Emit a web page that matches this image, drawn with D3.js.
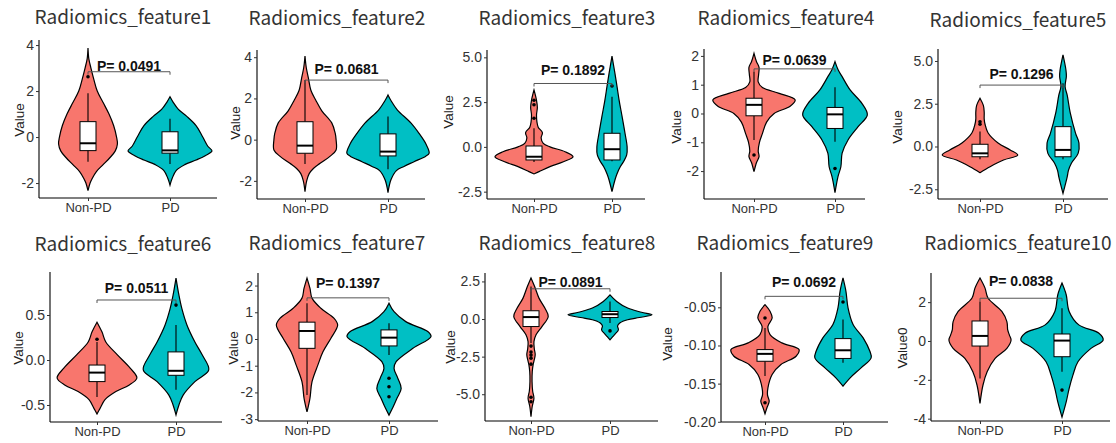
<!DOCTYPE html>
<html>
<head>
<meta charset="utf-8">
<script src="https://cdn.jsdelivr.net/npm/d3@7"></script>
<style>
  body { margin: 0; background: #fff; }
  svg { display: block; }
  .tick text { font-family: "Liberation Sans", Arial, sans-serif; font-size: 14px; fill: #333; }
  .title { font-family: "Noto Sans CJK SC", "Noto Sans", sans-serif; font-size: 19px; fill: #333; }
  .ylab { font-family: "Liberation Sans", Arial, sans-serif; font-size: 13.5px; fill: #222; }
  .ptext { font-family: "Liberation Sans", Arial, sans-serif; font-size: 14px; font-weight: bold; fill: #111; }
</style>
</head>
<body>
<svg id="chart" width="1116" height="443"></svg>
<script>
// ---- data ----
const features = ['Radiomics_feature1', 'Radiomics_feature2', 'Radiomics_feature3', 'Radiomics_feature4', 'Radiomics_feature5',
                  'Radiomics_feature6', 'Radiomics_feature7', 'Radiomics_feature8', 'Radiomics_feature9', 'Radiomics_feature10'];
const groups = ['Non-PD', 'PD'];
const yLabels = ['Value', 'Value', 'Value', 'Value', 'Value', 'Value', 'Value', 'Value', 'Value', 'Value0'];
const pValues = ['0.0491', '0.0681', '0.1892', '0.0639', '0.1296', '0.0511', '0.1397', '0.0891', '0.0692', '0.0838'];
const bracketY = [2.84, 2.89, 3.54, 1.55, 3.59, 0.667, 1.54, 2.01, -0.0356, 2.2];

const yDomains = [[-2.65, 4.22], [-2.88, 4.35], [-2.91, 5.41], [-2.97, 2.24], [-3.07, 5.7],
                  [-0.689, 0.978], [-3.07, 2.47], [-6.78, 3.06], [-0.2003, -0.0037], [-4.12, 3.5]];
const yTicks = [[-2, 0, 2, 4], [-2, 0, 2, 4], [-2.5, 0, 2.5, 5], [-2, -1, 0, 1, 2], [-2.5, 0, 2.5, 5],
                [-0.5, 0, 0.5], [-3, -2, -1, 0, 1, 2], [-5, -2.5, 0, 2.5], [-0.2, -0.15, -0.1, -0.05], [-4, -2, 0, 2]];
const tickFormats = ['d', 'd', '.1f', 'd', '.1f', '.1f', 'd', '.1f', '.2f', 'd'];

// box stats: [lower whisker, q1, median, q3, upper whisker]
const nonPdBox = [[-1.07, -0.59, -0.27, 0.67, 1.9], [-1.18, -0.66, -0.29, 0.87, 2.9], [-0.85, -0.73, -0.55, 0.05, 1.04],
                  [-0.92, -0.08, 0.3, 0.53, 1.45], [-0.75, -0.6, -0.4, 0.13, 0.87], [-0.41, -0.24, -0.14, -0.056, 0.2],
                  [-2.1, -0.35, 0.3, 0.63, 1.34], [-1.6, -0.5, 0.13, 0.55, 2.16], [-0.14, -0.1207, -0.111, -0.1054, -0.077],
                  [-1.93, -0.26, 0.26, 1.03, 2.03]];
const pdBox = [[-1.17, -0.7, -0.58, 0.23, 0.8], [-1.44, -0.79, -0.58, 0.28, 1.12], [-0.8, -0.73, -0.13, 0.76, 2.8],
               [-0.98, -0.52, -0.03, 0.21, 0.91], [-0.75, -0.6, -0.2, 1.16, 3.7], [-0.33, -0.17, -0.12, 0.09, 0.39],
               [-0.6, -0.26, 0.05, 0.34, 0.59], [-0.27, 0.1, 0.32, 0.5, 1.16], [-0.1228, -0.117, -0.1063, -0.091, -0.066],
               [-1.59, -0.81, 0.02, 0.36, 1.69]];
const nonPdOutliers = [[2.62], [], [2.6, 2.35, 1.6], [-1.44], [1.45, 1.3], [0.23], [],
                       [-1.8, -2.2, -2.4, -2.6, -3.0, -5.2, -5.5], [-0.0639, -0.175], []];
const pdOutliers = [[], [], [3.4], [-1.91], [], [0.61], [-1.47, -1.79, -2.16], [-0.79], [-0.043], [-2.53]];

// violin outlines: [value, relative density]
const nonPdViolin = [
  [[3.87, 0], [3.4, 0.02], [3.0, 0.07], [2.5, 0.14], [2.0, 0.22], [1.5, 0.36], [1.0, 0.5], [0.5, 0.61], [0, 0.68], [-0.3, 0.7], [-0.6, 0.65], [-0.9, 0.52], [-1.2, 0.36], [-1.5, 0.2], [-1.8, 0.1], [-2.0, 0.05], [-2.33, 0]],
  [[4.06, 0], [3.5, 0.03], [3.0, 0.08], [2.4, 0.14], [1.9, 0.26], [1.4, 0.4], [0.8, 0.64], [0.3, 0.72], [0, 0.74], [-0.5, 0.74], [-0.8, 0.6], [-1.15, 0.36], [-1.4, 0.2], [-1.65, 0.1], [-2.0, 0.04], [-2.52, 0]],
  [[3.18, 0], [2.6, 0.06], [2.2, 0.08], [1.8, 0.06], [1.4, 0.07], [1.1, 0.1], [0.8, 0.2], [0.5, 0.17], [0.2, 0.22], [0, 0.38], [-0.27, 0.74], [-0.55, 0.93], [-0.83, 0.7], [-1.1, 0.38], [-1.38, 0.12], [-1.51, 0]],
  [[2.09, 0], [1.8, 0.06], [1.6, 0.12], [1.35, 0.11], [1.1, 0.1], [0.9, 0.2], [0.7, 0.6], [0.47, 0.98], [0.25, 0.86], [0, 0.48], [-0.3, 0.3], [-0.7, 0.2], [-1.0, 0.13], [-1.3, 0.1], [-1.5, 0.12], [-1.7, 0.06], [-2.02, 0]],
  [[2.82, 0], [2.4, 0.08], [2.0, 0.1], [1.6, 0.1], [1.3, 0.12], [0.8, 0.19], [0.2, 0.43], [-0.2, 0.72], [-0.5, 0.9], [-0.79, 0.56], [-1.18, 0.24], [-1.53, 0]],
  [[0.42, 0], [0.31, 0.12], [0.2, 0.21], [0.06, 0.48], [-0.09, 0.79], [-0.2, 0.95], [-0.28, 0.76], [-0.35, 0.45], [-0.44, 0.19], [-0.54, 0.07], [-0.6, 0]],
  [[2.28, 0], [1.9, 0.07], [1.53, 0.12], [1.15, 0.33], [0.78, 0.64], [0.52, 0.73], [0.03, 0.57], [-0.48, 0.38], [-0.97, 0.26], [-1.6, 0.12], [-2.22, 0.07], [-2.73, 0]],
  [[2.72, 0], [2.06, 0.1], [1.39, 0.19], [0.73, 0.33], [0.17, 0.41], [-0.5, 0.26], [-1.05, 0.12], [-1.5, 0.07], [-2.0, 0.08], [-2.38, 0.1], [-2.8, 0.07], [-3.05, 0.05], [-3.5, 0.03], [-4.16, 0.025], [-4.8, 0.04], [-5.27, 0.07], [-5.8, 0.03], [-6.49, 0]],
  [[-0.0465, 0], [-0.0552, 0.12], [-0.0639, 0.17], [-0.0749, 0.07], [-0.0857, 0.12], [-0.0966, 0.4], [-0.1054, 0.81], [-0.1141, 0.74], [-0.125, 0.38], [-0.138, 0.17], [-0.1555, 0.07], [-0.165, 0.06], [-0.173, 0.1], [-0.181, 0.05], [-0.1895, 0]],
  [[3.24, 0], [2.72, 0.12], [2.21, 0.19], [1.52, 0.52], [1.0, 0.64], [0.57, 0.66], [0.3, 0.7], [0.05, 0.74], [-0.38, 0.64], [-0.9, 0.36], [-1.59, 0.17], [-2.28, 0.07], [-3.22, 0]]
];
const pdViolin = [
  [[1.75, 0], [1.5, 0.08], [1.2, 0.2], [0.9, 0.4], [0.5, 0.62], [0, 0.78], [-0.4, 0.9], [-0.6, 1.0], [-0.8, 0.85], [-1.0, 0.62], [-1.2, 0.35], [-1.45, 0.15], [-1.8, 0.05], [-2.09, 0]],
  [[2.17, 0], [1.9, 0.07], [1.45, 0.22], [0.8, 0.55], [0.3, 0.74], [-0.2, 0.9], [-0.65, 0.98], [-0.8, 0.9], [-1.07, 0.62], [-1.3, 0.38], [-1.5, 0.2], [-1.95, 0.07], [-2.57, 0]],
  [[5.07, 0], [4.1, 0.07], [3.36, 0.12], [2.6, 0.17], [1.7, 0.24], [0.76, 0.31], [0, 0.36], [-0.45, 0.35], [-0.8, 0.28], [-1.1, 0.2], [-1.5, 0.12], [-1.85, 0.07], [-2.5, 0]],
  [[1.8, 0], [1.5, 0.08], [1.28, 0.17], [0.82, 0.36], [0.35, 0.64], [-0.05, 0.77], [-0.46, 0.55], [-0.92, 0.31], [-1.38, 0.17], [-1.85, 0.14], [-2.2, 0.07], [-2.75, 0]],
  [[5.35, 0], [4.47, 0.07], [4.1, 0.08], [3.5, 0.05], [3.0, 0.1], [2.0, 0.17], [0.77, 0.3], [0.2, 0.38], [-0.4, 0.36], [-0.98, 0.2], [-1.4, 0.13], [-1.77, 0.1], [-2.74, 0]],
  [[0.91, 0], [0.72, 0.07], [0.57, 0.14], [0.39, 0.26], [0.2, 0.45], [0.06, 0.62], [-0.11, 0.78], [-0.24, 0.45], [-0.39, 0.17], [-0.5, 0.07], [-0.61, 0]],
  [[1.34, 0], [1.02, 0.12], [0.65, 0.4], [0.27, 0.93], [0.09, 1.0], [-0.35, 0.57], [-0.85, 0.17], [-1.1, 0.12], [-1.47, 0.21], [-1.85, 0.29], [-2.22, 0.19], [-2.54, 0.1], [-2.85, 0]],
  [[1.61, 0], [1.17, 0.16], [0.73, 0.42], [0.45, 0.75], [0.28, 1.0], [0.1, 0.7], [-0.05, 0.42], [-0.25, 0.24], [-0.45, 0.18], [-0.72, 0.2], [-1.0, 0.12], [-1.16, 0.07], [-1.38, 0]],
  [[-0.0115, 0], [-0.029, 0.07], [-0.0508, 0.12], [-0.0726, 0.24], [-0.09, 0.48], [-0.1076, 0.64], [-0.1162, 0.67], [-0.1293, 0.43], [-0.1424, 0.17], [-0.1534, 0]],
  [[2.98, 0], [2.38, 0.1], [1.52, 0.17], [0.83, 0.4], [0.4, 0.88], [0.05, 0.98], [-0.38, 0.69], [-1.07, 0.38], [-1.76, 0.26], [-2.45, 0.17], [-3.14, 0.1], [-3.92, 0]]
];

// ---- layout (pixels, per panel) ----
const layout = [
  { ox: 0,   oy: 0,   left: 39, right: 217, top: 40, bottom: 198, c1: 88, c2: 170, tx: 123, ty: 24, lx: 19, ly: 120, gap: 1 },
  { ox: 225, oy: 0,   left: 32, right: 200, top: 50, bottom: 199, c1: 80, c2: 163, tx: 112, ty: 25, lx: 10, ly: 123, gap: 6 },
  { ox: 445, oy: 0,   left: 42, right: 200, top: 50, bottom: 199, c1: 89, c2: 167, tx: 122, ty: 25, lx: 3,  ly: 112, gap: 8 },
  { ox: 668, oy: 0,   left: 36, right: 197, top: 49, bottom: 199, c1: 86, c2: 167, tx: 118, ty: 25, lx: 8,  ly: 127, gap: 4 },
  { ox: 890, oy: 0,   left: 48, right: 218, top: 49, bottom: 199, c1: 90, c2: 173, tx: 128, ty: 27, lx: 7,  ly: 127, gap: 6 },
  { ox: 0,   oy: 215, left: 50, right: 222, top: 57, bottom: 207, c1: 97, c2: 176, tx: 123, ty: 36, lx: 18, ly: 133, gap: 7 },
  { ox: 225, oy: 215, left: 33, right: 213, top: 58, bottom: 206, c1: 82, c2: 164, tx: 112, ty: 35, lx: 8,  ly: 133, gap: 10 },
  { ox: 445, oy: 215, left: 40, right: 213, top: 58, bottom: 206, c1: 86, c2: 165, tx: 122, ty: 35, lx: 5,  ly: 132, gap: 2 },
  { ox: 668, oy: 215, left: 53, right: 220, top: 57, bottom: 207, c1: 97, c2: 175, tx: 117, ty: 35, lx: -1, ly: 129, gap: 9 },
  { ox: 890, oy: 215, left: 41, right: 220, top: 58, bottom: 206, c1: 90, c2: 172, tx: 128, ty: 35, lx: 12, ly: 133, gap: 12 }
];

const colors = { 'Non-PD': '#F8766D', 'PD': '#00BFC4' };
const boxWidth = 16;
const halfWidth = d3.scaleLinear().domain([0, 1]).range([0, 42]);

const svg = d3.select('#chart');

features.forEach((name, i) => {
  const L = layout[i];
  const g = svg.append('g').attr('transform', `translate(${L.ox},${L.oy})`);

  const x = d3.scalePoint().domain(groups).range([L.c1, L.c2]);
  const y = d3.scaleLinear().domain(yDomains[i]).range([L.bottom, L.top]);

  const series = [
    { grp: 'Non-PD', violin: nonPdViolin[i], box: nonPdBox[i], out: nonPdOutliers[i] },
    { grp: 'PD', violin: pdViolin[i], box: pdBox[i], out: pdOutliers[i] }
  ];

  series.forEach(s => {
    const cx = x(s.grp);
    // violin body
    const area = d3.area()
      .curve(d3.curveCatmullRom.alpha(0.5))
      .y(d => y(d[0]))
      .x0(d => cx - halfWidth(Math.max(0, d[1])))
      .x1(d => cx + halfWidth(Math.max(0, d[1])));
    g.append('path')
      .attr('d', area(s.violin))
      .attr('fill', colors[s.grp])
      .attr('stroke', '#000')
      .attr('stroke-width', 1.2);

    // box plot on top
    const [lw, q1, med, q3, uw] = s.box;
    g.append('line')
      .attr('x1', cx).attr('x2', cx)
      .attr('y1', y(uw)).attr('y2', y(q3))
      .attr('stroke', '#000').attr('stroke-width', 1.1);
    g.append('line')
      .attr('x1', cx).attr('x2', cx)
      .attr('y1', y(q1)).attr('y2', y(lw))
      .attr('stroke', '#000').attr('stroke-width', 1.1);
    g.append('rect')
      .attr('x', cx - boxWidth / 2)
      .attr('y', y(q3))
      .attr('width', boxWidth)
      .attr('height', y(q1) - y(q3))
      .attr('fill', '#fff')
      .attr('stroke', '#000')
      .attr('stroke-width', 1);
    g.append('line')
      .attr('x1', cx - boxWidth / 2).attr('x2', cx + boxWidth / 2)
      .attr('y1', y(med)).attr('y2', y(med))
      .attr('stroke', '#000').attr('stroke-width', 2);

    g.selectAll(null)
      .data(s.out)
      .enter()
      .append('circle')
      .attr('cx', cx)
      .attr('cy', d => y(d))
      .attr('r', 1.8)
      .attr('fill', '#000');
  });

  // axes (plain hyphen for negatives, as in the reference)
  const fmt = d3.format(tickFormats[i]);
  const yAxis = d3.axisLeft(y)
    .tickValues(yTicks[i])
    .tickFormat(d => fmt(d).replace('\u2212', '-'))
    .tickSize(3)
    .tickPadding(2);
  const ya = g.append('g').attr('transform', `translate(${L.left},0)`).call(yAxis);
  ya.select('.domain').attr('d', `M0,${L.top}V${L.bottom}`).attr('stroke', '#000').attr('stroke-width', 1.1);
  ya.selectAll('.tick line').attr('stroke', '#333');

  const xAxis = d3.axisBottom(x).tickSize(3).tickPadding(2);
  const xa = g.append('g').attr('transform', `translate(0,${L.bottom})`).call(xAxis);
  xa.select('.domain').attr('d', `M${L.left},0H${L.right}`).attr('stroke', '#000').attr('stroke-width', 1.1);
  xa.selectAll('.tick line').attr('stroke', '#333');
  xa.selectAll('.tick text').style('font-size', '13px');

  // titles and labels
  g.append('text')
    .attr('class', 'title')
    .attr('x', L.tx)
    .attr('y', L.ty)
    .attr('text-anchor', 'middle')
    .text(name);

  g.append('text')
    .attr('class', 'ylab')
    .attr('transform', `translate(${L.lx + 5},${L.ly}) rotate(-90)`)
    .attr('text-anchor', 'middle')
    .text(yLabels[i]);

  // significance bracket
  const by = y(bracketY[i]);
  g.append('path')
    .attr('d', `M${x('Non-PD')},${by + 3}V${by}H${x('PD')}V${by + 3}`)
    .attr('fill', 'none')
    .attr('stroke', '#555')
    .attr('stroke-width', 1);
  g.append('text')
    .attr('class', 'ptext')
    .attr('x', (x('Non-PD') + x('PD')) / 2)
    .attr('y', by - L.gap)
    .attr('text-anchor', 'middle')
    .text(`P= ${pValues[i]}`);
});
</script>
</body>
</html>
